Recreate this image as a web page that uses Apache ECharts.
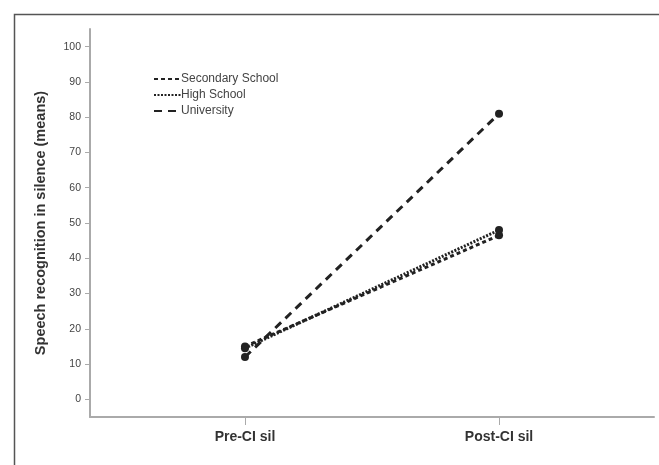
<!DOCTYPE html>
<html><head><meta charset="utf-8">
<script src="https://cdn.jsdelivr.net/npm/echarts@6/dist/echarts.min.js"></script>
<style>html,body{margin:0;padding:0;background:#fff}#c{width:659px;height:465px}</style>
</head><body><div id="c"></div>
<script>
const categories = ['Pre-CI sil', 'Post-CI sil'];
const seriesNames = ['Secondary School', 'High School', 'University'];
const secondary = [15, 46.5];
const highSchool = [14.5, 48];
const university = [12, 81];
const yTicks = [0, 10, 20, 30, 40, 50, 60, 70, 80, 90, 100];

const toPts = arr => arr.map((v, i) => [i, v]);
const lineCol = '#222';
const mk = (name, data, type, width) => ({
  name, type: 'line', data: toPts(data),
  symbol: 'circle', symbolSize: 8,
  itemStyle: { color: lineCol },
  lineStyle: { color: lineCol, width: width, type: type },
  z: 3
});

const chart = echarts.init(document.getElementById('c'));
chart.setOption({
  animation: false,
  backgroundColor: '#fff',
  graphic: [{
    type: 'rect', left: 12, top: 12, z: 0,
    shape: { width: 700, height: 500 },
    style: { fill: 'none', stroke: '#555', lineWidth: 1.5 }
  }],
  grid: { left: 90, right: 5, top: 29, bottom: 48 },
  legend: {
    left: 148, top: 68, orient: 'vertical', itemGap: 4,
    itemWidth: 28, itemHeight: 12,
    itemStyle: { opacity: 0 },
    textStyle: { fontFamily: 'Liberation Sans, Arial', fontSize: 12, color: '#444', padding: [0, 0, 0, -6] },
    data: seriesNames
  },
  xAxis: {
    type: 'value', min: -0.61, max: 1.61,
    splitLine: { show: false },
    axisLine: { onZero: false, lineStyle: { color: '#aaa', width: 2 } },
    axisTick: { customValues: [0, 1], length: 8, lineStyle: { color: '#aaa', width: 1 } },
    axisLabel: {
      customValues: [0, 1], margin: 13,
      formatter: v => categories[Math.round(v)] || '',
      fontFamily: 'Liberation Sans, Arial', fontSize: 14, fontWeight: 'bold', color: '#333'
    }
  },
  yAxis: {
    type: 'value', min: -5, max: 105,
    name: 'Speech recognition in silence (means)',
    nameLocation: 'middle', nameGap: 42, nameRotate: 90,
    nameTextStyle: { fontFamily: 'Liberation Sans, Arial', fontSize: 14.5, fontWeight: 'bold', color: '#333' },
    splitLine: { show: false },
    axisLine: { show: true, onZero: false, lineStyle: { color: '#aaa', width: 2 } },
    axisTick: { show: true, customValues: yTicks, length: 5, lineStyle: { color: '#aaa', width: 1 } },
    axisLabel: {
      customValues: yTicks, margin: 9,
      fontFamily: 'Liberation Sans, Arial', fontSize: 10.5, color: '#444'
    }
  },
  series: [
    mk(seriesNames[0], secondary, [4, 3], 3),
    mk(seriesNames[1], highSchool, [2, 1.5], 3),
    mk(seriesNames[2], university, [8, 6], 3)
  ]
});
</script></body></html>
